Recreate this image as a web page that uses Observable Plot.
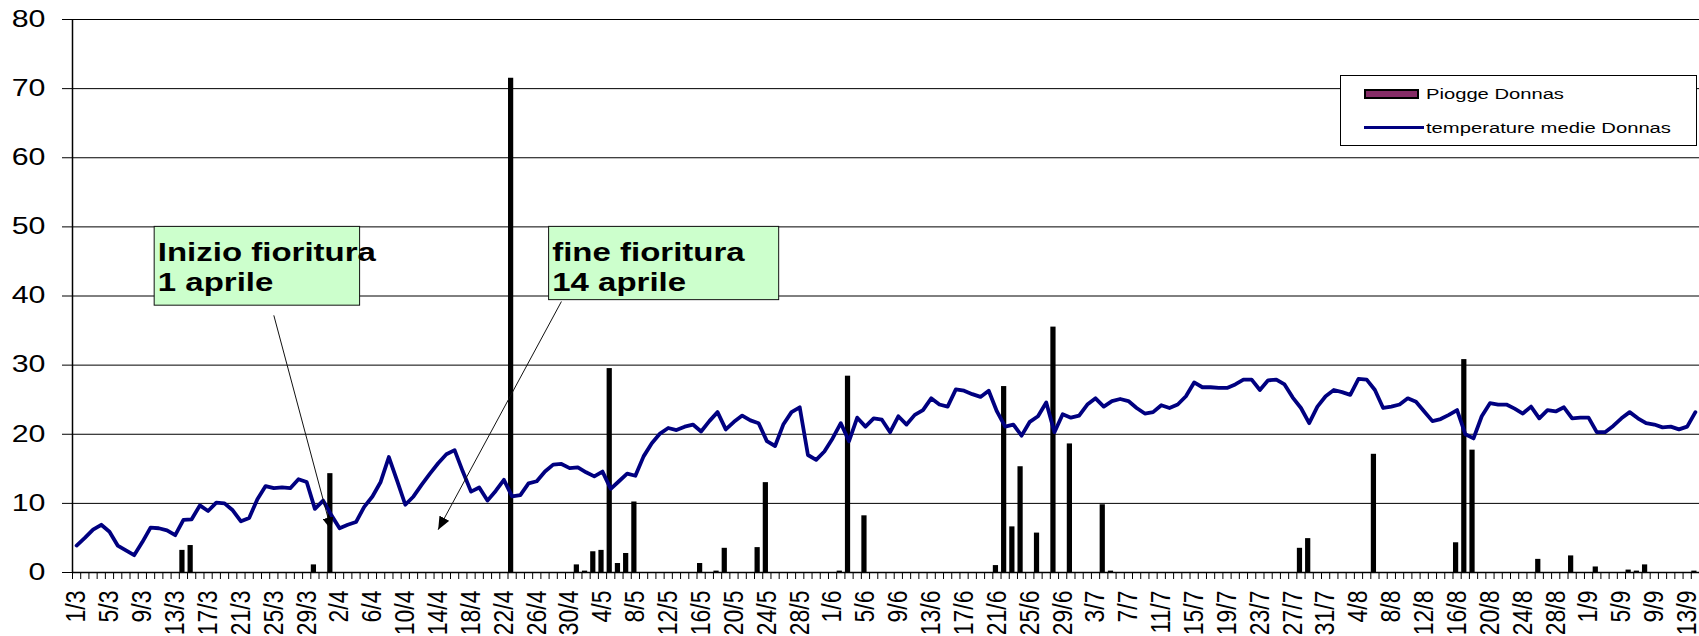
<!DOCTYPE html>
<html>
<head>
<meta charset="utf-8">
<script src="https://cdn.jsdelivr.net/npm/d3@7"></script>
<script src="https://cdn.jsdelivr.net/npm/@observablehq/plot@0.6"></script>
<style>
  body { margin: 0; background: white; }
  #wrap { position: relative; width: 1699px; height: 636px; overflow: hidden; font-family: 'Liberation Sans', Arial, sans-serif; }
  #wrap svg { display: block; }
  .legend { position: absolute; left: 1340px; top: 75px; width: 357px; height: 71px; box-sizing: border-box; border: 1px solid #000; background: #fff; }
  .legend .sw { position: absolute; box-sizing: border-box; }
  .legend .lt { position: absolute; font-size: 14px; line-height: 14px; white-space: nowrap; color: #000; transform-origin: 0 50%; }
</style>
</head>
<body>
<div id="wrap"></div>
<script>
// ---- categories: one per day, 1 March to 14 September
const firstDay = new Date(Date.UTC(2008, 2, 1));
const dayAfterLast = new Date(Date.UTC(2008, 8, 15));
const days = d3.utcDay.range(firstDay, dayAfterLast).map(d => `${d.getUTCDate()}/${d.getUTCMonth() + 1}`);
const labelDays = days.filter((d, i) => i % 4 === 0);
const yTicks = [0, 10, 20, 30, 40, 50, 60, 70, 80];

// ---- series: temperature medie Donnas (one value per day)
const tempValues = [
  3.9, 5.0, 6.2, 6.9, 5.9, 3.9, 3.2, 2.5, 4.4, 6.5,
  6.4, 6.1, 5.4, 7.6, 7.7, 9.7, 8.9, 10.1, 10.0, 9.0,
  7.4, 7.9, 10.6, 12.5, 12.2, 12.3, 12.2, 13.5, 13.1, 9.2,
  10.4, 8.3, 6.4, 6.9, 7.3, 9.5, 11.0, 13.1, 16.7, 13.3,
  9.8, 11.0, 12.7, 14.3, 15.8, 17.1, 17.7, 14.6, 11.7, 12.3,
  10.4, 11.8, 13.4, 11.0, 11.2, 12.9, 13.2, 14.6, 15.6, 15.7,
  15.1, 15.2, 14.5, 13.9, 14.6, 12.1, 13.2, 14.3, 14.0, 16.8,
  18.7, 20.1, 20.9, 20.6, 21.1, 21.4, 20.4, 21.9, 23.2, 20.7,
  21.8, 22.7, 22.0, 21.6, 19.0, 18.3, 21.4, 23.2, 23.9, 17.0,
  16.3, 17.5, 19.4, 21.6, 19.0, 22.4, 21.1, 22.3, 22.1, 20.3,
  22.6, 21.4, 22.8, 23.5, 25.2, 24.3, 24.0, 26.5, 26.3, 25.8,
  25.4, 26.3, 23.3, 21.1, 21.4, 19.8, 21.8, 22.6, 24.6, 20.3,
  22.9, 22.4, 22.7, 24.3, 25.2, 24.0, 24.8, 25.1, 24.8, 23.8,
  23.0, 23.2, 24.2, 23.8, 24.3, 25.5, 27.5, 26.8, 26.8, 26.7,
  26.7, 27.2, 27.9, 27.9, 26.4, 27.8, 27.9, 27.2, 25.3, 23.8,
  21.6, 24.0, 25.5, 26.4, 26.1, 25.7, 28.0, 27.9, 26.4, 23.8,
  24.0, 24.3, 25.2, 24.7, 23.3, 21.9, 22.2, 22.8, 23.5, 20.0,
  19.4, 22.6, 24.5, 24.3, 24.3, 23.7, 23.0, 24.0, 22.3, 23.5,
  23.3, 23.9, 22.3, 22.4, 22.4, 20.3, 20.3, 21.2, 22.3, 23.2,
  22.3, 21.6, 21.4, 21.0, 21.1, 20.7, 21.1, 23.2
];

// ---- series: Piogge Donnas (only rainy days)
const rainDates = [
  "14/3", "15/3", "30/3", "1/4", "23/4", "1/5", "2/5", "3/5", "4/5", "5/5",
  "6/5", "7/5", "8/5", "16/5", "18/5", "19/5", "23/5", "24/5", "2/6", "3/6",
  "5/6", "21/6", "22/6", "23/6", "24/6", "26/6", "28/6", "30/6", "4/7", "5/7",
  "28/7", "29/7", "6/8", "16/8", "17/8", "18/8", "26/8", "30/8", "2/9", "6/9",
  "7/9", "8/9", "14/9"
];
const rainValues = [
  3.2, 3.9, 1.1, 14.3, 71.5, 1.1, 0.2, 3.0, 3.2, 29.5,
  1.3, 2.75, 10.2, 1.3, 0.2, 3.5, 3.6, 13.0, 0.2, 28.4,
  8.2, 1.0, 26.9, 6.6, 15.3, 5.7, 35.5, 18.6, 9.8, 0.2,
  3.5, 4.9, 17.1, 4.3, 30.8, 17.7, 1.9, 2.4, 0.8, 0.35,
  0.2, 1.1, 0.2
];

// ---- legend / annotation texts
const seriesNames = ["Piogge Donnas", "temperature medie Donnas"];
const annotationTexts = ["Inizio fioritura\n1 aprile", "fine fioritura\n14 aprile"];
const annotationBoxX1 = ["11/3", "28/4"];
const annotationBoxX2 = ["4/4", "25/5"];
const annotationBoxY1 = [38.6, 39.4];
const annotationBoxY2 = [50, 50];
const arrowFromX = ["25/3", "29/4"];
const arrowFromY = [37.2, 39.2];
const arrowToX = ["1/4", "14/4"];
const arrowToY = [6.1, 6.2];

// ---- tables built from the arrays
const temps = tempValues.map((v, i) => ({date: days[i], value: v}));
const rain = rainDates.map((d, i) => ({date: d, value: rainValues[i]}));
const notes = annotationTexts.map((t, i) => ({
  text: t, bx1: annotationBoxX1[i], bx2: annotationBoxX2[i], by1: annotationBoxY1[i], by2: annotationBoxY2[i],
  fx: arrowFromX[i], fy: arrowFromY[i], tx: arrowToX[i], ty: arrowToY[i]
}));

const W = 1699, H = 636, ML = 72, MR = 0, MT = 19, MB = 64;
const bw = (W - ML - MR) / days.length;
const FONT = "'Liberation Sans', Arial, sans-serif";

const chart = Plot.plot({
  width: W, height: H,
  marginLeft: ML, marginRight: MR, marginTop: MT, marginBottom: MB,
  style: {fontFamily: FONT, fontSize: "23px", background: "white", color: "black"},
  x: {type: "band", domain: days, padding: 0, round: false},
  y: {domain: [0, 80]},
  marks: [
    Plot.gridY({ticks: yTicks.filter(v => v > 0), stroke: "black", strokeOpacity: 1, strokeWidth: 1}),
    Plot.barY(rain, {x: "date", y: "value", fill: "black", insetLeft: 1.5, insetRight: 1.5, dx: -1}),
    Plot.lineY(temps, {x: "date", y: "value", stroke: "#000080", strokeWidth: 3.8, strokeLinejoin: "round"}),
    Plot.ruleY([0], {stroke: "black", strokeWidth: 1.5}),
    Plot.ruleX([days[0]], {y1: 0, y2: 80, dx: -bw / 2, stroke: "black", strokeWidth: 1.5}),
    Plot.axisY({ticks: yTicks, tickSize: 10, tickPadding: 17, label: null, fontSize: 23}),
    Plot.axisX({ticks: days, tickSize: 7, tickFormat: () => "", dx: -bw / 2, label: null}),
    Plot.axisX({ticks: labelDays, tickSize: 0, tickPadding: 18, tickRotate: -90, label: null, fontSize: 23}),
    Plot.rect(notes, {x1: "bx1", x2: "bx2", y1: "by1", y2: "by2", fill: "#ccffcc", stroke: "#111", strokeWidth: 1}),
    Plot.link(notes, {x1: "fx", y1: "fy", x2: "tx", y2: "ty", stroke: "#111", strokeWidth: 1, markerEnd: "arrow"}),
    Plot.text(notes, {x: "bx1", y: "by2", text: "text", textAnchor: "start", lineAnchor: "top", dx: -1, dy: 12.5,
      fontWeight: "bold", fontSize: 25, lineHeight: 1.2, fill: "black"})
  ]
});

const wrap = document.getElementById("wrap");
wrap.appendChild(chart);

// horizontally stretched lettering, as in the reference
function stretch(el, sx, sy) {
  const x = +el.getAttribute("x") || 0, y = +el.getAttribute("y") || 0;
  const t = el.getAttribute("transform") || "";
  el.setAttribute("transform", `${t} translate(${x},${y}) scale(${sx},${sy}) translate(${-x},${-y})`);
}
chart.querySelectorAll('g[aria-label="y-axis tick label"] text').forEach(el => stretch(el, 1.32, 1));
chart.querySelectorAll('g[aria-label="x-axis tick label"] text').forEach(el => stretch(el, 1, 1.2));
chart.querySelectorAll('g[aria-label="text"] text').forEach(el => stretch(el, 1.32, 1));

// filled arrow heads
const NS = "http://www.w3.org/2000/svg";
chart.querySelectorAll("marker").forEach(m => {
  m.setAttribute("viewBox", "-13 -5.5 13 11");
  m.setAttribute("markerWidth", 13);
  m.setAttribute("markerHeight", 11);
  m.setAttribute("markerUnits", "userSpaceOnUse");
  m.setAttribute("refX", 0);
  m.setAttribute("refY", 0);
  m.setAttribute("fill", "black");
  m.setAttribute("stroke", "none");
  while (m.firstChild) m.removeChild(m.firstChild);
  const p = document.createElementNS(NS, "path");
  p.setAttribute("d", "M-13,-5.5L0,0L-13,5.5Z");
  m.appendChild(p);
});

// legend
const legend = document.createElement("div");
legend.className = "legend";
legend.innerHTML = `
  <div class="sw" style="left:23px;top:13px;width:55px;height:10px;background:#862d67;border:2px solid #000;"></div>
  <div class="lt" data-w="138" style="left:85px;top:11px;">${seriesNames[0]}</div>
  <div class="sw" style="left:23px;top:50px;width:60px;height:3px;background:#000080;"></div>
  <div class="lt" data-w="245" style="left:85px;top:45px;">${seriesNames[1]}</div>`;
wrap.appendChild(legend);
legend.querySelectorAll(".lt").forEach(el => {
  const w = el.getBoundingClientRect().width;
  el.style.transform = `scaleX(${(+el.dataset.w / w).toFixed(3)})`;
});
</script>
</body>
</html>
